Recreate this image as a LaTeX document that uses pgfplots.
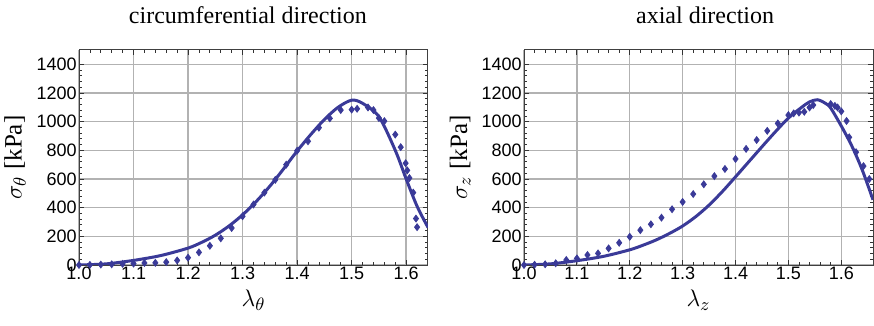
\documentclass[border=0pt]{standalone}
\usepackage{pgfplots}
\pgfplotsset{compat=1.18}
\usepackage{fontspec}
\setmainfont{Liberation Serif}
\setsansfont{Liberation Sans}
\definecolor{mblue}{RGB}{58,58,152}
\pgfplotsset{
  every axis title/.style={at={(0.5,1)}, anchor=center, font=\fontsize{12bp}{13bp}\selectfont},
  mystyle/.style={
    scale only axis, width=174.5bp, height=107.5bp,
    xmin=1, ymin=0, ymax=1500,
    xtick={1.0,1.1,1.2,1.3,1.4,1.5,1.6},
    ytick={0,200,400,600,800,1000,1200,1400},
    minor x tick num=4, minor y tick num=4,
    grid=major, major grid style={gray!60, line width=0.7bp},
    tick align=inside, xtick pos=both, ytick pos=both,
    major tick length=2.5bp, minor tick length=1.5bp,
    every tick/.style={gray!40!black, line width=0.4bp},
    axis line style={gray!50!black, line width=0.5bp},
    /pgf/number format/assume math mode=true,
    /pgf/number format/1000 sep={},
    scaled ticks=false,
    xticklabel style={font=\sffamily\fontsize{9bp}{10bp}\selectfont, inner sep=1bp,
      /pgf/number format/fixed, /pgf/number format/fixed zerofill, /pgf/number format/precision=1},
    yticklabel style={font=\sffamily\fontsize{9bp}{10bp}\selectfont, inner sep=1bp},
    xlabel style={at={(axis description cs:0.5,-0.163)}, anchor=center, font=\fontsize{13bp}{14bp}\selectfont},
    ylabel style={at={(axis description cs:-0.183,0.5)}, anchor=center, font=\fontsize{12.5bp}{13bp}\selectfont},
  }
}
\begin{document}
\begin{tikzpicture}
\useasboundingbox (0,0) rectangle (437bp,163bp);
\begin{axis}[mystyle, at={(39.5bp,30.5bp)}, anchor=south west, xmax=1.64,
  xlabel={$\lambda_\theta$}, ylabel={$\sigma_\theta$ [kPa]},
  title={circumferential direction}, title style={at={(axis description cs:0.484,1.163)}}]
\addplot[mblue, line width=1.5bp, smooth] coordinates {
(1.00,0) (1.05,8) (1.10,32) (1.15,66) (1.20,118) (1.225,158) (1.25,208) (1.275,272) (1.30,350) (1.325,443) (1.35,550) (1.375,670) (1.40,795) (1.425,910) (1.45,1015) (1.475,1100) (1.50,1150) (1.52,1128) (1.55,1035) (1.58,800) (1.60,600) (1.62,410) (1.64,262)
};
\addplot[only marks, mark=diamond*, mark size=1.7bp, mblue, mark options={draw=mblue, fill=mblue}] coordinates {
(1.00,0) (1.02,1) (1.04,3) (1.06,5) (1.08,8) (1.10,10) (1.12,14) (1.14,15) (1.16,20) (1.18,32)
(1.20,51) (1.22,88) (1.24,134) (1.26,186) (1.28,258) (1.30,340) (1.32,422) (1.34,505) (1.36,594)
(1.38,700) (1.40,797) (1.42,863) (1.44,958) (1.46,1023) (1.48,1081) (1.50,1084) (1.51,1090)
(1.53,1099) (1.54,1081) (1.55,1025) (1.56,1004) (1.58,910) (1.59,822) (1.599,710) (1.602,660)
(1.606,607) (1.613,505) (1.618,324) (1.620,264)
};
\end{axis}
\begin{axis}[mystyle, at={(262bp,30.5bp)}, anchor=south west, xmax=1.66,
  xlabel={$\lambda_z$}, ylabel={$\sigma_z$ [kPa]},
  title={axial direction}, title style={at={(axis description cs:0.519,1.163)}}]
\addplot[mblue, line width=1.5bp, smooth] coordinates {
(1.00,0) (1.05,8) (1.10,30) (1.15,60) (1.20,106) (1.225,138) (1.25,175) (1.275,220) (1.30,272) (1.325,338) (1.35,418) (1.375,512) (1.40,615) (1.425,720) (1.45,825) (1.475,928) (1.50,1025) (1.525,1100) (1.54,1138) (1.555,1153) (1.57,1128) (1.58,1095) (1.60,970) (1.62,830) (1.64,660) (1.66,455)
};
\addplot[only marks, mark=diamond*, mark size=1.7bp, mblue, mark options={draw=mblue, fill=mblue}] coordinates {
(1.00,0) (1.02,2) (1.04,5) (1.06,12) (1.08,35) (1.10,46) (1.12,70) (1.14,81) (1.16,116) (1.18,155)
(1.20,197) (1.22,243) (1.24,284) (1.26,330) (1.28,389) (1.30,440) (1.32,495) (1.34,563) (1.36,620)
(1.38,670) (1.40,740) (1.42,810) (1.44,872) (1.46,936) (1.48,988) (1.50,1046) (1.51,1058)
(1.52,1063) (1.53,1069) (1.54,1099) (1.547,1116) (1.58,1123) (1.588,1110) (1.593,1099)
(1.60,1072) (1.61,1005) (1.615,891) (1.628,787) (1.642,690) (1.653,600)
};
\end{axis}
\end{tikzpicture}
\end{document}
